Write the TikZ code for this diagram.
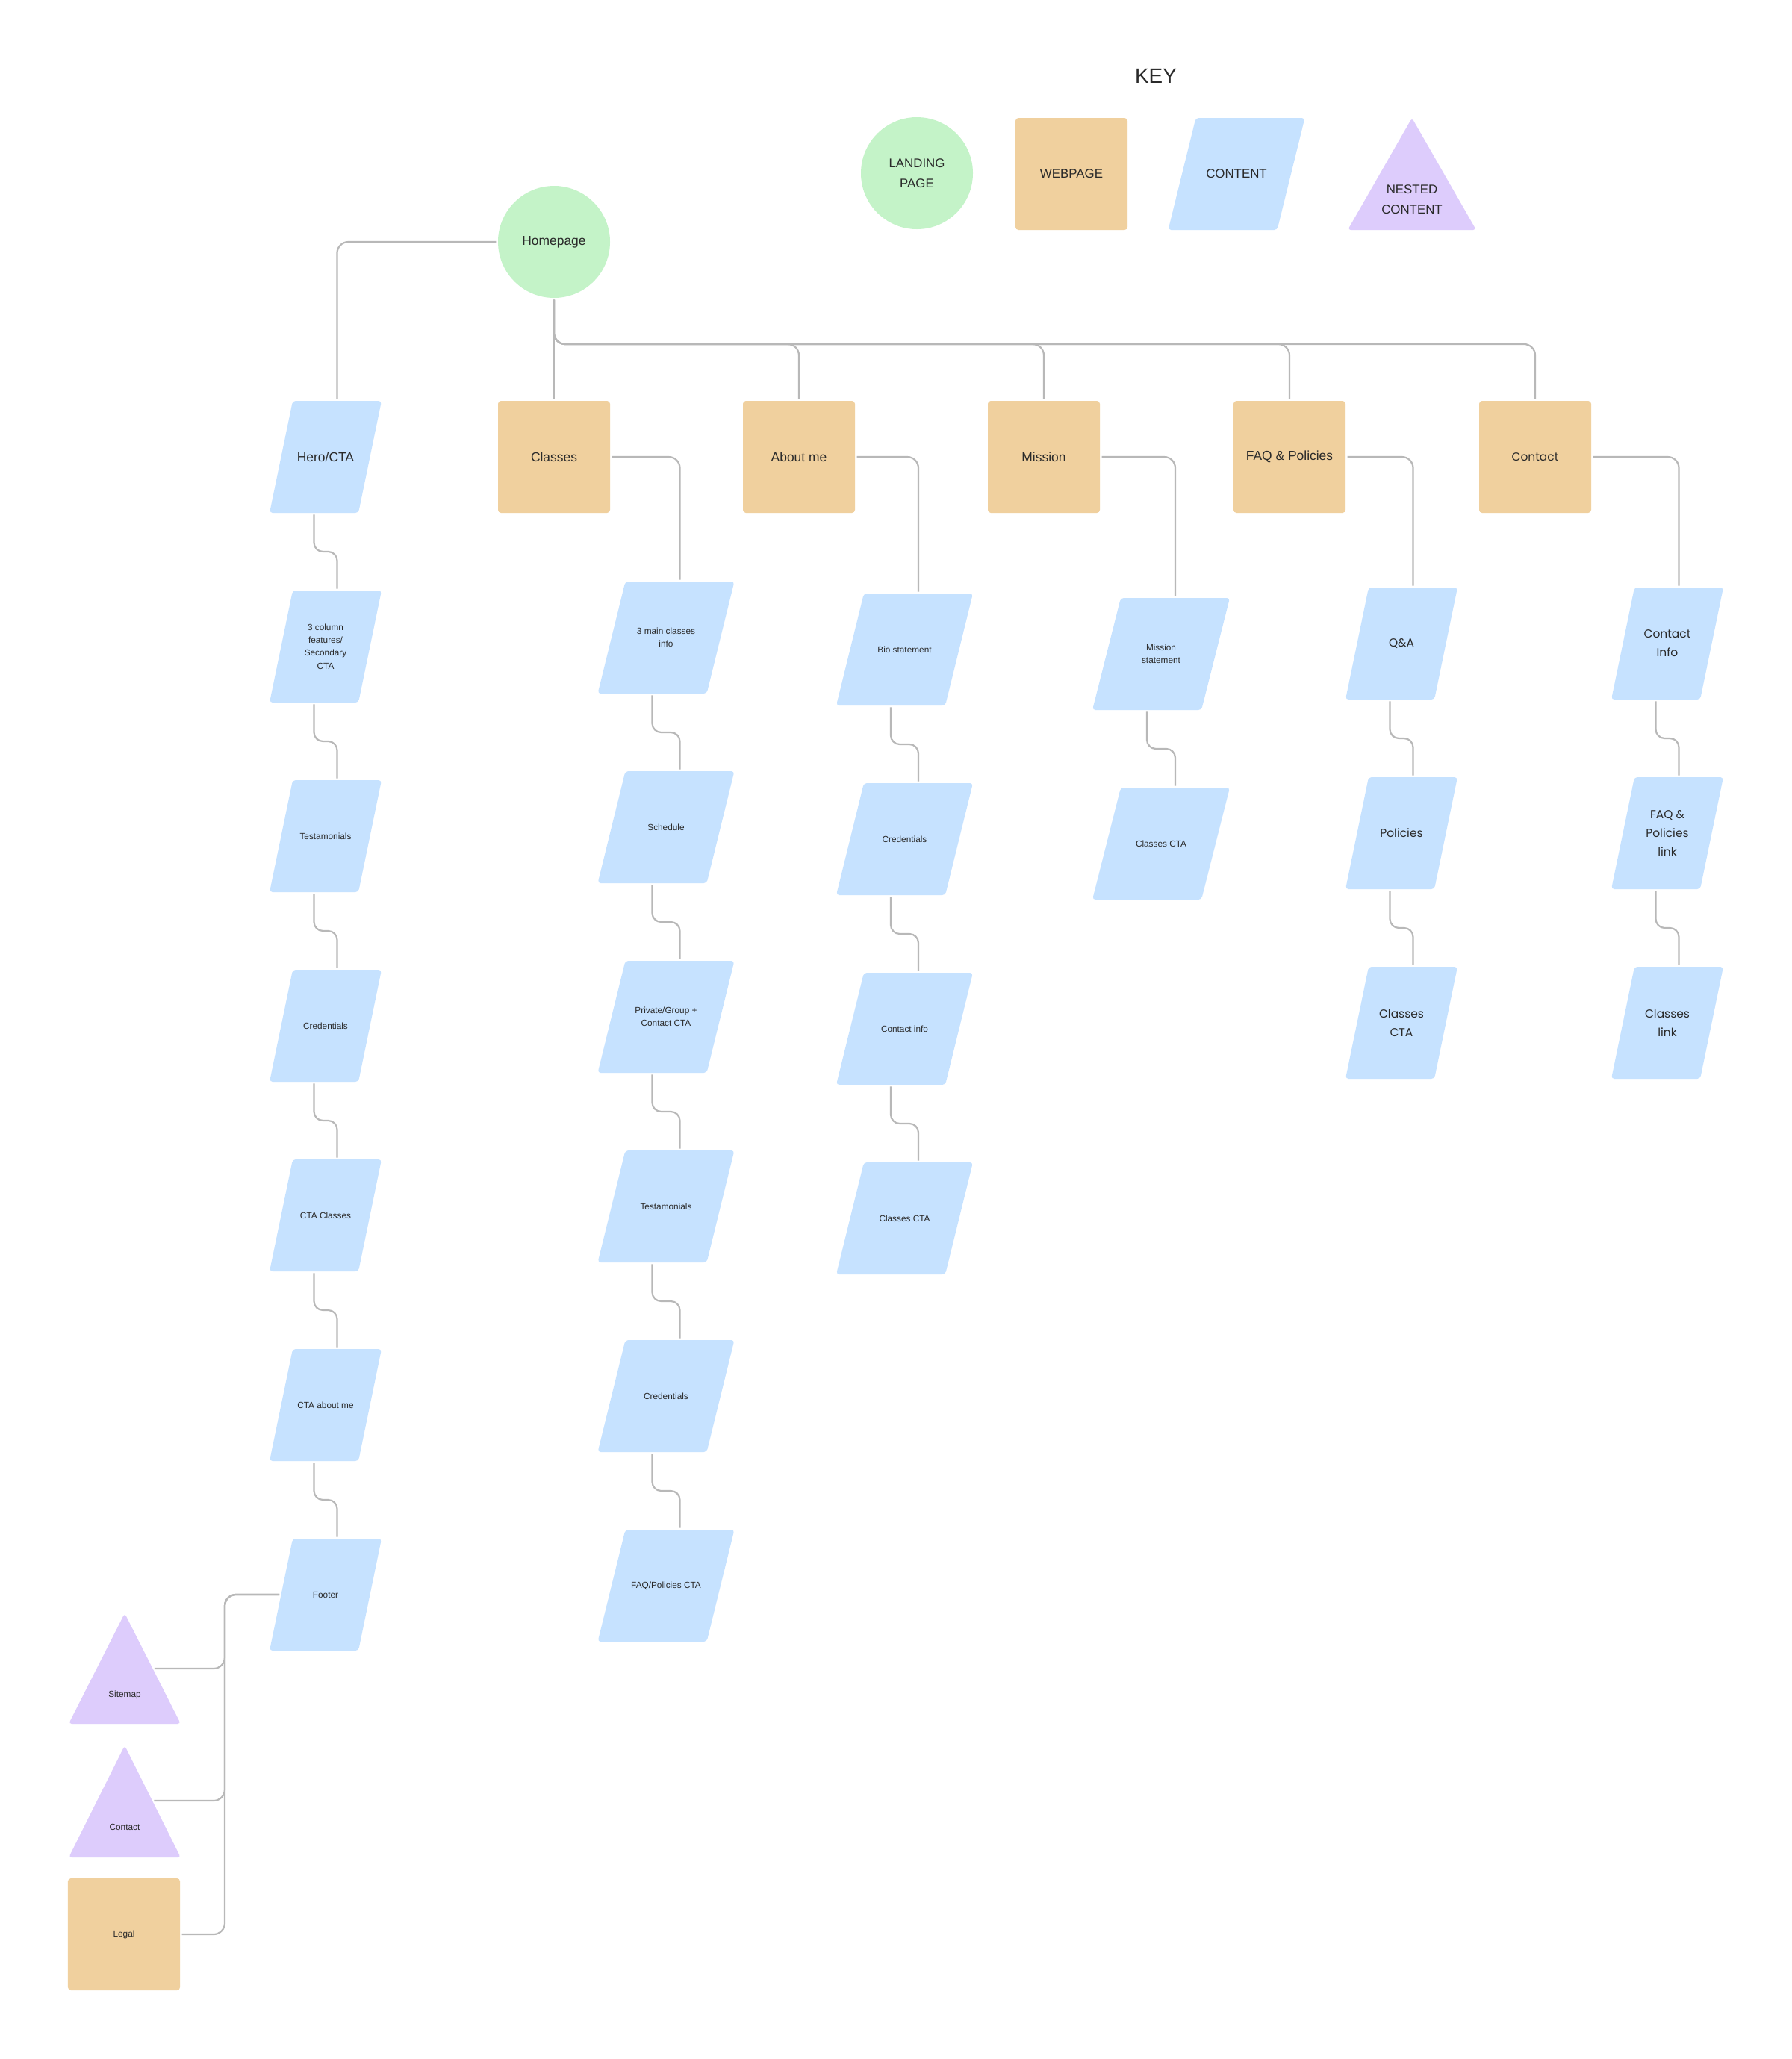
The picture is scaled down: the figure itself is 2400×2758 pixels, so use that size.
\documentclass[tikz,border=0pt]{standalone}
\usepackage{fontspec}
\setmainfont{Liberation Sans}
\newfontfamily\popfont{Poppins}
\usetikzlibrary{calc}

\definecolor{cgreen}{RGB}{196,243,200}
\definecolor{ctan}{RGB}{240,208,158}
\definecolor{cblue}{RGB}{198,226,255}
\definecolor{cpurple}{RGB}{221,204,252}
\definecolor{cline}{RGB}{184,184,184}
\definecolor{ctext}{RGB}{42,42,42}

\tikzset{
  conn/.style={draw=cline, line width=0.55mm, rounded corners=3.75mm, shorten <=0.6mm, shorten >=0.6mm},
  lbl/.style={text=ctext, align=center, inner sep=0pt},
  big/.style={lbl, font=\fontsize{12.4}{15}\selectfont},
  small/.style={lbl, font=\fontsize{8.4}{12.4}\selectfont},
  pop/.style={lbl, font=\popfont\fontsize{11}{17.7}\selectfont},
  keyl/.style={lbl, font=\fontsize{12}{19.2}\selectfont},
  landing/.style={circle, fill=cgreen, minimum size=37.5mm, big},
  webpage/.style={rectangle, fill=ctan, minimum width=37.5mm, minimum height=37.5mm, rounded corners=1mm, big},
  cfill/.style={fill=cblue, rounded corners=1mm},
  nfill/.style={fill=cpurple, rounded corners=1mm},
}

% parallelogram content box: name, cx, cy, width, slant, label style, text
\newcommand\mkpara[7]{%
  \fill[cfill] ({#2-#4/2+#5/2},{#3-75}) -- ({#2+#4/2+#5/2},{#3-75}) -- ({#2+#4/2-#5/2},{#3+75}) -- ({#2-#4/2-#5/2},{#3+75}) -- cycle;
  \node[#6] (#1) at (#2,#3) {#7};
  \coordinate (#1-t) at ({#2+#5/2},{#3-75});
  \coordinate (#1-b) at ({#2-#5/2},{#3+75});
  \coordinate (#1-l) at ({#2-#4/2},{#3});
}
% S-shaped connector between two stacked content boxes
\newcommand\scon[2]{%
  \coordinate (mid) at ($(#1-b)!0.5!(#2-t)$);
  \draw[conn, rounded corners=3mm] (#1-b) -- (#1-b |- mid) -- (#2-t |- mid) -- (#2-t);
}

\begin{document}
\begin{tikzpicture}[x=0.25mm, y=-0.25mm]
\fill[white] (0,0) rectangle (2400,2758);
\useasboundingbox (0,0) rectangle (2400,2758);

% ---------------- KEY ----------------
\node[lbl, font=\fontsize{19.8}{24}\selectfont] (keytitle) at (1548,102) {KEY};
\node[landing, keyl] (klanding) at (1228,232) {LANDING\\PAGE};
\node[webpage, keyl] (kwebpage) at (1435,233) {WEBPAGE};
\mkpara{kcontent}{1656}{233}{146}{37}{keyl}{CONTENT}
\fill[nfill] (1891,158) -- (1977,308) -- (1805,308) -- cycle;
\node[keyl] (knested) at (1891,267) {NESTED\\CONTENT};

% ---------------- main pages ----------------
\node[landing] (home) at (742,324) {Homepage};
\node[webpage] (classes) at (742,612) {Classes};
\node[webpage] (about) at (1070,612) {About me};
\node[webpage] (mission) at (1398,612) {Mission};
\node[webpage] (faq) at (1727,612) {FAQ \& Policies};
\node[webpage, pop] (contact) at (2056,612) {Contact};

% ---------------- homepage column ----------------
\mkpara{hero}{436}{612}{119}{31}{big}{Hero/CTA}
\mkpara{h2}{436}{866}{119}{31}{small}{3 column\\features/\\Secondary\\CTA}
\mkpara{h3}{436}{1120}{119}{31}{small}{Testamonials}
\mkpara{h4}{436}{1374}{119}{31}{small}{Credentials}
\mkpara{h5}{436}{1628}{119}{31}{small}{CTA Classes}
\mkpara{h6}{436}{1882}{119}{31}{small}{CTA about me}
\mkpara{footer}{436}{2136}{119}{31}{small}{Footer}

% footer nested items
\fill[nfill] (167,2161) -- (242,2309) -- (92,2309) -- cycle;
\node[small] (sitemap) at (167,2270) {Sitemap};
\coordinate (sitemap-r) at (204.5,2235);
\fill[nfill] (167,2338) -- (242,2488) -- (92,2488) -- cycle;
\node[small] (contactp) at (167,2447) {Contact};
\coordinate (contactp-r) at (204,2412);
\node[webpage, small] (legal) at (166,2591) {Legal};

% ---------------- classes column ----------------
\mkpara{c1}{892}{854}{146}{37}{small}{3 main classes\\info}
\mkpara{c2}{892}{1108}{146}{37}{small}{Schedule}
\mkpara{c3}{892}{1362}{146}{37}{small}{Private/Group +\\Contact CTA}
\mkpara{c4}{892}{1616}{146}{37}{small}{Testamonials}
\mkpara{c5}{892}{1870}{146}{37}{small}{Credentials}
\mkpara{c6}{892}{2124}{146}{37}{small}{FAQ/Policies CTA}

% ---------------- about column ----------------
\mkpara{a1}{1211.5}{870}{146}{37}{small}{Bio statement}
\mkpara{a2}{1211.5}{1124}{146}{37}{small}{Credentials}
\mkpara{a3}{1211.5}{1378}{146}{37}{small}{Contact info}
\mkpara{a4}{1211.5}{1632}{146}{37}{small}{Classes CTA}

% ---------------- mission column ----------------
\mkpara{m1}{1555}{876}{146}{38}{small}{Mission\\statement}
\mkpara{m2}{1555}{1130}{146}{38}{small}{Classes CTA}

% ---------------- FAQ column ----------------
\mkpara{f1}{1877}{862}{119}{31}{pop}{Q\&A}
\mkpara{f2}{1877}{1116}{119}{31}{pop}{Policies}
\mkpara{f3}{1877}{1370}{119}{31}{pop}{Classes\\CTA}

% ---------------- contact column ----------------
\mkpara{k1}{2233}{862}{119}{31}{pop}{Contact\\Info}
\mkpara{k2}{2233}{1116}{119}{31}{pop}{FAQ \&\\Policies\\link}
\mkpara{k3}{2233}{1370}{119}{31}{pop}{Classes\\link}

% ---------------- connectors ----------------
\draw[conn] (home.west) -| (hero-t);
\draw[conn] (home.south) -- (classes.north);
\coordinate (bus) at (742,461);
\foreach \n in {about,mission,faq,contact}
  \draw[conn] (home.south) -- (bus) -| (\n.north);

\draw[conn] (classes.east) -| (c1-t);
\draw[conn] (about.east) -| (a1-t);
\draw[conn] (mission.east) -| (m1-t);
\draw[conn] (faq.east) -| (f1-t);
\draw[conn] (contact.east) -| (k1-t);

\scon{hero}{h2}\scon{h2}{h3}\scon{h3}{h4}\scon{h4}{h5}\scon{h5}{h6}\scon{h6}{footer}
\scon{c1}{c2}\scon{c2}{c3}\scon{c3}{c4}\scon{c4}{c5}\scon{c5}{c6}
\scon{a1}{a2}\scon{a2}{a3}\scon{a3}{a4}
\scon{m1}{m2}
\scon{f1}{f2}\scon{f2}{f3}
\scon{k1}{k2}\scon{k2}{k3}

\coordinate (fbus) at (301,2136);
\draw[conn] (footer-l) -- (fbus) |- (sitemap-r);
\draw[conn] (footer-l) -- (fbus) |- (contactp-r);
\draw[conn] (footer-l) -- (fbus) |- (legal.east);
\end{tikzpicture}
\end{document}
